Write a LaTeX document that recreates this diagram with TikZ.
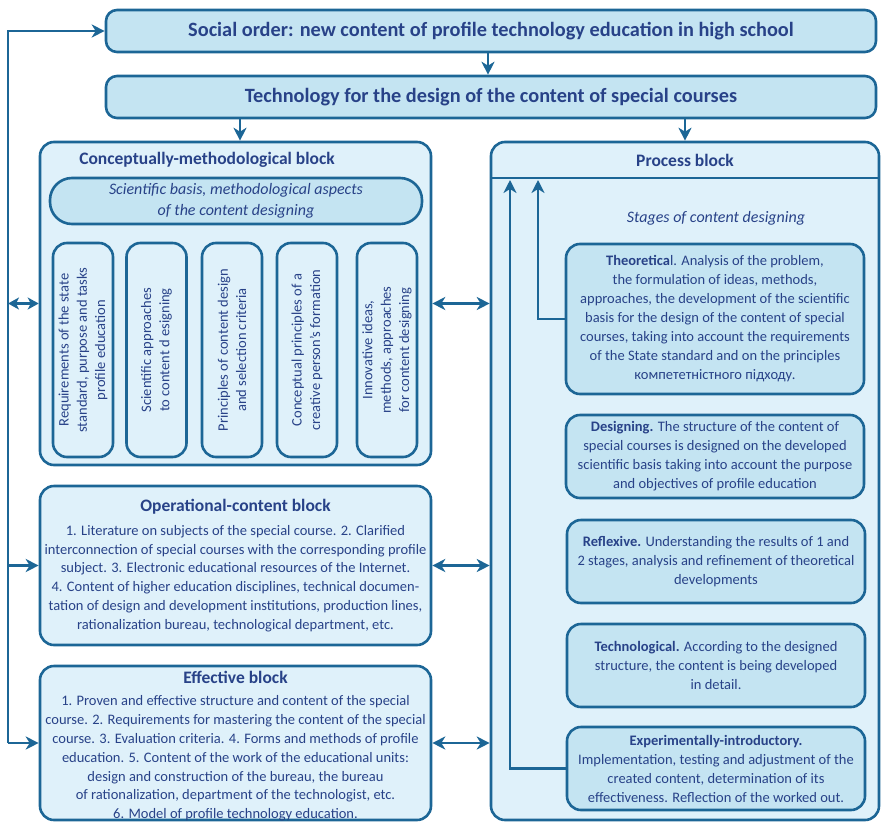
\documentclass[tikz,border=0pt]{standalone}
\usepackage{fontspec}
\setmainfont{Carlito}
\usetikzlibrary{arrows.meta}
\definecolor{bord}{RGB}{28,102,150}
\definecolor{fillA}{RGB}{196,228,242}
\definecolor{fillB}{RGB}{223,241,250}
\definecolor{txt}{RGB}{40,66,136}
\tikzset{
  topbox/.style={draw=bord, line width=2.6pt, fill=fillA, rounded corners=11pt, text=txt, font=\fontsize{20.3}{24}\selectfont\bfseries, inner sep=0pt},
  blockbox/.style={draw=bord, line width=2.6pt, fill=fillB, rounded corners=14pt, inner sep=0pt},
  stagebox/.style={draw=bord, line width=2.6pt, fill=fillA, rounded corners=14pt, inner sep=0pt, text=txt, align=center, font=\fontsize{14.5}{19}\selectfont},
  vbox/.style={draw=bord, line width=2.6pt, fill=fillB, rounded corners=14pt, inner sep=0pt, minimum width=60pt, minimum height=214pt},
  vtext/.style={rotate=90, text=txt, align=center, font=\fontsize{14.5}{18.3}\selectfont},
  btitle/.style={text=txt, font=\fontsize{17.5}{20}\selectfont\bfseries},
  btext/.style={text=txt, align=center, font=\fontsize{14.5}{18.8}\selectfont},
  arr/.style={draw=bord, line width=2.6pt, -{Stealth[length=13pt,width=13pt,inset=4pt]}},
  darr/.style={draw=bord, line width=2.6pt, {Stealth[length=13pt,width=13pt,inset=4pt]}-{Stealth[length=13pt,width=13pt,inset=4pt]}},
  sdarr/.style={draw=bord, line width=2.6pt, {Stealth[length=11pt,width=12pt,inset=3pt]}-{Stealth[length=11pt,width=12pt,inset=3pt]}},
}
\begin{document}
\begin{tikzpicture}[x=1pt,y=-1pt]
\useasboundingbox (0,0) rectangle (881,822);
% top boxes
\node[topbox, minimum width=770pt, minimum height=42pt] (social) at (491,31) {Social order: new content of profile technology education in high school};
\node[topbox, minimum width=770pt, minimum height=42pt] (tech) at (491,97) {Technology for the design of the content of special courses};
% conceptual block
\node[blockbox, minimum width=391pt, minimum height=323pt] (concept) at (235.5,303.5) {};
\node[btitle] (ctitle) at (207,160) {Conceptually-methodological block};
\node[stagebox, rounded corners=22pt, minimum width=372pt, minimum height=46pt, font=\fontsize{16}{20.7}\selectfont\itshape] (sci) at (236,201) {Scientific basis, methodological aspects\\of the content designing};
\node[vbox] (v1) at (83,350) {};
\node[vtext] (v1t) at (v1) {Requirements of the state\\standard, purpose and tasks\\profile education};
\node[vbox] (v2) at (156.5,350) {};
\node[vtext] (v2t) at (v2) {Scientific approaches\\to content d esigning};
\node[vbox] (v3) at (232,350) {};
\node[vtext] (v3t) at (v3) {Principles of content design\\and selection criteria};
\node[vbox] (v4) at (307,350) {};
\node[vtext] (v4t) at (v4) {Conceptual principles of a\\creative person's formation};
\node[vbox] (v5) at (387,350) {};
\node[vtext] (v5t) at (v5) {Innovative ideas,\\methods, approaches\\for content designing};
% operational block
\node[blockbox, minimum width=391pt, minimum height=159pt] (oper) at (235.5,565.5) {};
\node[btitle] (otitle) at (235.5,507) {Operational-content block};
\node[btext] (otext) at (235.5,578.5) {1. Literature on subjects of the special course. 2. Clarified\\interconnection of special courses with the corresponding profile\\subject. 3. Electronic educational resources of the Internet.\\4. Content of higher education disciplines, technical documen-\\tation of design and development institutions, production lines,\\rationalization bureau, technological department, etc.};
% effective block
\node[blockbox, minimum width=391pt, minimum height=154pt] (eff) at (235.5,743) {};
\node[btitle] (etitle) at (235.5,677) {Effective block};
\node[btext] (etext) at (235.5,758.5) {1. Proven and effective structure and content of the special\\course. 2. Requirements for mastering the content of the special\\course. 3. Evaluation criteria. 4. Forms and methods of profile\\education. 5. Content of the work of the educational units:\\design and construction of the bureau, the bureau\\of rationalization, department of the technologist, etc.\\6. Model of profile technology education.};
% process block
\node[blockbox, minimum width=388pt, minimum height=678pt] (process) at (685,481) {};
\node[btitle] (ptitle) at (685,160) {Process block};
\coordinate (pl) at (491,178);
\coordinate (pr) at (879,178);
\draw[draw=bord, line width=2.6pt] (pl) -- (pr);
\node[btext, font=\fontsize{16}{19}\selectfont\itshape] (stages) at (716,218) {Stages of content designing};
\node[stagebox, minimum width=298pt, minimum height=150pt] (theo) at (715,319) {\textbf{Theoretica}l. Analysis of the problem,\\the formulation of ideas, methods,\\approaches, the development of the scientific\\basis for the design of the content of special\\courses, taking into account the requirements\\of the State standard and on the principles\\компететністного підходу.};
\node[stagebox, minimum width=298pt, minimum height=83pt] (des) at (715,456.5) {\textbf{Designing.} The structure of the content of\\special courses is designed on the developed\\scientific basis taking into account the purpose\\and objectives of profile education};
\node[stagebox, minimum width=298pt, minimum height=83pt] (refl) at (716,561.5) {\textbf{Reflexive.} Understanding the results of 1 and\\2 stages, analysis and refinement of theoretical\\developments};
\node[stagebox, minimum width=298pt, minimum height=83pt] (techn) at (716,665.5) {\textbf{Technological.} According to the designed\\structure, the content is being developed\\in detail.};
\node[stagebox, minimum width=298pt, minimum height=83pt] (exp) at (716,768.5) {\textbf{Experimentally-introductory.}\\Implementation, testing and adjustment of the\\created content, determination of its\\effectiveness. Reflection of the worked out.};
% connectors
\coordinate (L) at (8,0);
\coordinate (c1) at (240,0);
\coordinate (t1) at (538,180);
\coordinate (t2) at (510,180);
\draw[arr] (social.south -| 488,0) -- (tech.north -| 488,0);
\draw[arr] (tech.south -| c1) -- (concept.north -| c1);
\draw[arr] (tech.south -| process.north) -- (process.north);
\draw[arr] (eff.west -| L) -- (social.west -| L) -- (social.west);
\draw[arr] (eff.west -| L) -- (eff.west);
\draw[arr] (oper.west -| L) -- (oper.west);
\draw[sdarr] (concept.west -| L) -- (concept.west);
\draw[darr] (concept.east) -- (concept.east -| process.west);
\draw[darr] (oper.east) -- (oper.east -| process.west);
\draw[darr] (eff.east) -- (eff.east -| process.west);
\draw[arr] (theo.west) -| (t1);
\draw[arr] (exp.west) -| (t2);
\end{tikzpicture}
\end{document}
